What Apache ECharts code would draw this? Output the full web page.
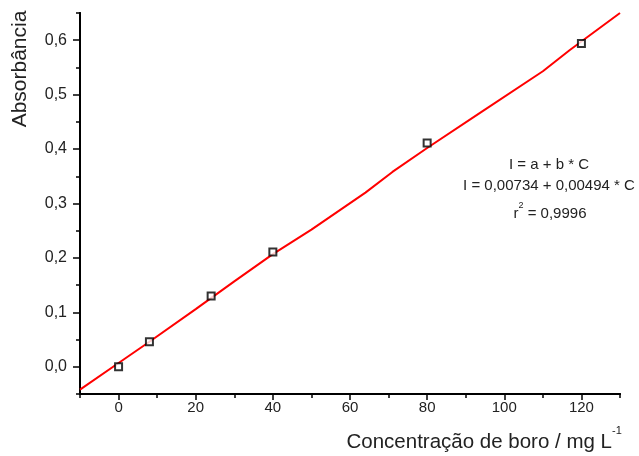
<!DOCTYPE html>
<html>
<head>
<meta charset="utf-8">
<script src="https://cdn.jsdelivr.net/npm/echarts@6/dist/echarts.min.js"></script>
<style>html,body{margin:0;padding:0;background:#fff}#c{width:639px;height:456px}</style>
</head>
<body>
<div id="c"></div>
<script>
// Measured points (concentration, absorbance)
var concentrations = [0, 8, 24, 40, 80, 120];
var absorbances = [0.000, 0.046, 0.130, 0.211, 0.411, 0.594];
// Red fit curve vertices
var fitX = [-10, 0, 8, 20, 30, 40, 50, 64, 71, 80, 94, 110, 117, 130];
var fitY = [-0.042, 0.007, 0.046, 0.106, 0.157, 0.207, 0.252, 0.320, 0.358, 0.402, 0.468, 0.543, 0.582, 0.650];
// Tick values
var xMajorTicks = [0, 20, 40, 60, 80, 100, 120];
var xMinorTicks = [-10, 10, 30, 50, 70, 90, 110, 130];
var yMajorTicks = [0, 0.1, 0.2, 0.3, 0.4, 0.5, 0.6];
var yMinorTicks = [-0.05, 0.05, 0.15, 0.25, 0.35, 0.45, 0.55, 0.65];
var yTitle = 'Absorbância';
var xTitle = 'Concentração de boro / mg L';
var eqLines = ['I = a + b * C', 'I = 0,00734 + 0,00494 * C'];

var FONT = "'Liberation Sans', Arial, sans-serif";
var chart = echarts.init(document.getElementById('c'));

function pairs(xs, ys) { return xs.map(function (x, i) { return [x, ys[i]]; }); }

var axisLineStyle = { color: '#000', width: 2 };
function xAx(ticks, len, labels) {
  return {
    type: 'value', min: -10, max: 130, position: 'bottom',
    splitLine: { show: false },
    axisLine: { show: true, onZero: false, lineStyle: axisLineStyle },
    axisTick: { show: true, length: len, customValues: ticks, lineStyle: { color: '#000', width: 1.5 } },
    axisLabel: labels ? { show: true, customValues: ticks, margin: 6, color: '#222', fontSize: 15, fontFamily: FONT } : { show: false }
  };
}
function yAx(ticks, len, labels) {
  return {
    type: 'value', min: -0.05, max: 0.65, position: 'left',
    splitLine: { show: false },
    axisLine: { show: true, onZero: false, lineStyle: axisLineStyle },
    axisTick: { show: true, length: len, customValues: ticks, lineStyle: { color: '#000', width: 1.5 } },
    axisLabel: labels ? {
      show: true, customValues: ticks, margin: 13, color: '#222', fontSize: 16, fontFamily: FONT,
      formatter: function (v) { return v.toFixed(1).replace('.', ','); }
    } : { show: false }
  };
}

chart.setOption({
  animation: false,
  backgroundColor: '#fff',
  grid: { left: 80, right: 19, top: 13, bottom: 62 },
  xAxis: [xAx(xMajorTicks, 6, true), xAx(xMinorTicks, 4, false)],
  yAxis: [yAx(yMajorTicks, 7, true), yAx(yMinorTicks, 4, false)],
  series: [
    {
      type: 'line', xAxisIndex: 0, yAxisIndex: 0,
      data: pairs(fitX, fitY), showSymbol: false, symbol: 'none',
      lineStyle: { color: '#ff0000', width: 2 }, z: 2
    },
    {
      type: 'scatter', xAxisIndex: 0, yAxisIndex: 0,
      data: pairs(concentrations, absorbances), symbol: 'rect', symbolSize: 7,
      itemStyle: { color: '#fff', borderColor: '#000', borderWidth: 2 }, z: 3
    }
  ],
  graphic: [
    { type: 'text', x: 20, y: 69, rotation: Math.PI / 2,
      style: { text: yTitle, x: 0, y: 0, align: 'center', verticalAlign: 'middle', fill: '#222', font: '21px ' + FONT } },
    { type: 'text', x: 612, y: 442,
      style: { text: xTitle, x: 0, y: 0, align: 'right', verticalAlign: 'middle', fill: '#222', font: '20.5px ' + FONT } },
    { type: 'text', x: 612, y: 431,
      style: { text: '-1', x: 0, y: 0, align: 'left', verticalAlign: 'middle', fill: '#222', font: '11px ' + FONT } },
    { type: 'text', x: 549, y: 165,
      style: { text: eqLines[0], x: 0, y: 0, align: 'center', verticalAlign: 'middle', fill: '#222', font: '15px ' + FONT } },
    { type: 'text', x: 549, y: 186,
      style: { text: eqLines[1], x: 0, y: 0, align: 'center', verticalAlign: 'middle', fill: '#222', font: '15px ' + FONT } },
    { type: 'text', x: 550, y: 211,
      style: {
        text: '{r|r}{s|2}{r| = 0,9996}', x: 0, y: 0, align: 'center', verticalAlign: 'middle',
        rich: {
          r: { fill: '#222', fontSize: 15, fontFamily: FONT, lineHeight: 20, verticalAlign: 'bottom' },
          s: { fill: '#222', fontSize: 9, fontFamily: FONT, lineHeight: 20, verticalAlign: 'top' }
        }
      } }
  ]
});
</script>
</body>
</html>
